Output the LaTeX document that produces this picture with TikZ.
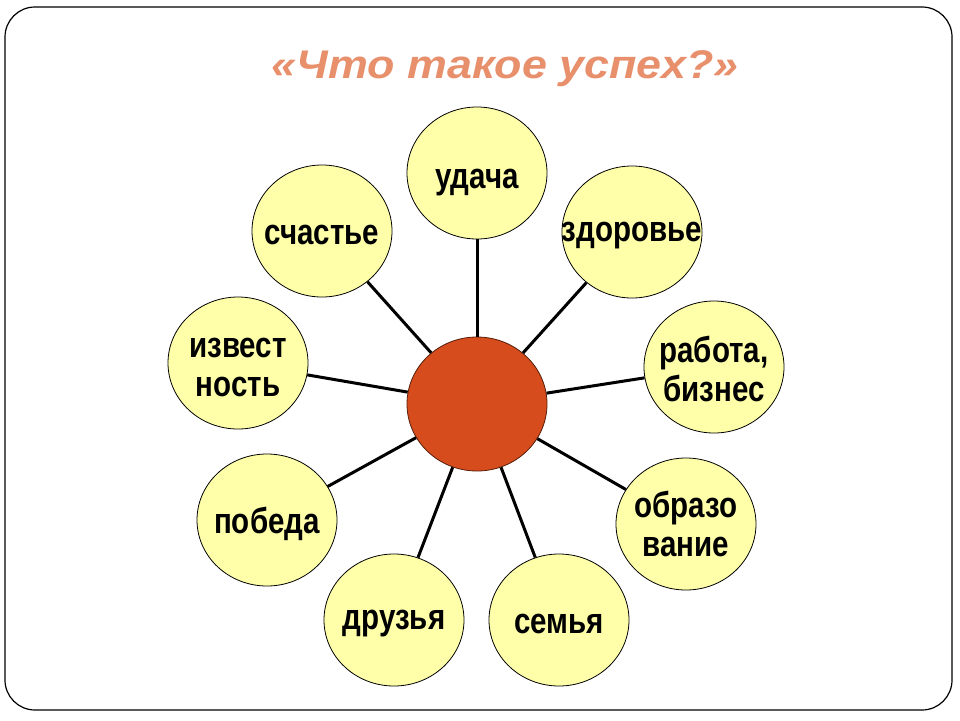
\documentclass[tikz,border=0pt]{standalone}
\usepackage{fontspec}
\usetikzlibrary{shapes.geometric}
\newfontfamily\circfont[FakeStretch=0.82]{Liberation Sans}
\newfontfamily\ttlfont[FakeStretch=1.12]{Liberation Sans}
\definecolor{petal}{RGB}{255,255,170}
\definecolor{core}{RGB}{214,76,28}
\definecolor{ttl}{RGB}{232,143,108}
\begin{document}
\begin{tikzpicture}[x=1pt,y=-1pt,
  petalnode/.style={ellipse,draw=black,line width=0.8pt,fill=petal,
    minimum width=140pt,minimum height=132pt,inner sep=0pt},
  petaltext/.style={align=center,yshift=-4pt,inner sep=0pt,
    font=\circfont\bfseries\fontsize{36}{39}\selectfont},
  corenode/.style={ellipse,draw=black!60!core,line width=0.8pt,fill=core,
    minimum width=140pt,minimum height=134pt,inner sep=0pt},
  spoke/.style={line width=3pt,black}]
\useasboundingbox (0,0) rectangle (960,720);
\fill[white] (0,0) rectangle (960,720);
\draw[line width=1.2pt,rounded corners=30pt] (5,7) rectangle (952,710);
\node[font=\ttlfont\bfseries\itshape\fontsize{40}{42}\selectfont,text=ttl] (title) at (505,69) {«Что такое успех?»};
\node[corenode] (c) at (477,404) {};
\node[petalnode,label={[petaltext,yshift=-6pt]center:удача}] (p1) at (477,173) {};
\node[petalnode,label={[petaltext]center:здоровье}] (p2) at (632,232) {};
\node[petalnode,label={[petaltext,yshift=2pt]center:работа,\\бизнес}] (p3) at (714,367) {};
\node[petalnode,label={[petaltext,yshift=4pt]center:образо\\вание}] (p4) at (686,524) {};
\node[petalnode,label={[petaltext]center:семья}] (p5) at (559,620) {};
\node[petalnode,label={[petaltext]center:друзья}] (p6) at (394,620) {};
\node[petalnode,label={[petaltext]center:победа}] (p7) at (267,520) {};
\node[petalnode,label={[petaltext]center:извест\\ность}] (p8) at (238,363) {};
\node[petalnode,label={[petaltext]center:счастье}] (p9) at (322,231) {};
\foreach \p in {p1,p2,p3,p4,p5,p6,p7,p8,p9} \draw[spoke] (c) -- (\p);
\end{tikzpicture}
\end{document}
